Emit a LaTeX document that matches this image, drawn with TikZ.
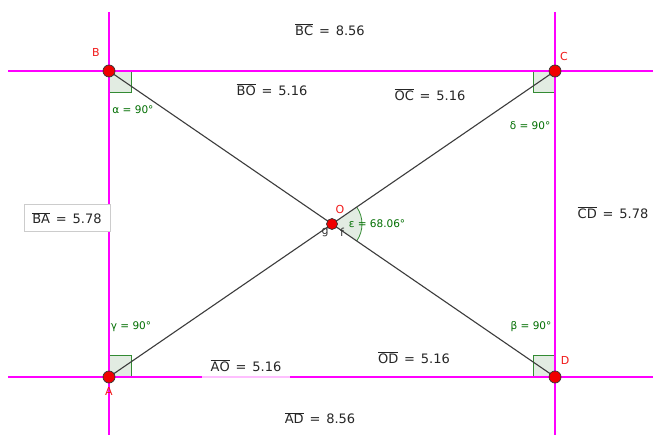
\documentclass[tikz,border=0pt]{standalone}
\usepackage{fontspec}
\setsansfont{DejaVu Sans}
\usetikzlibrary{calc}
\definecolor{mag}{RGB}{255,0,255}
\definecolor{ptred}{RGB}{240,0,0}
\definecolor{angfill}{RGB}{226,236,226}
\definecolor{anggreen}{RGB}{0,110,0}
\definecolor{seggray}{RGB}{60,60,60}
\tikzset{
  magline/.style={draw=mag, line width=2.6pt},
  seg/.style={draw=seggray, line width=1.1pt},
  pt/.style={circle, fill=ptred, draw=black!80, line width=0.7pt, inner sep=0pt, minimum size=12pt},
  ptlabel/.style={text=ptred!90, font=\sffamily\fontsize{11}{11}\selectfont, inner sep=1pt},
  anglabel/.style={text=anggreen, font=\sffamily\fontsize{10.5}{11}\selectfont, inner sep=1pt},
  seglabel/.style={text=black!85, font=\sffamily\fontsize{13}{14}\selectfont, inner sep=2pt},
  rightang/.style={fill=angfill, draw=anggreen!80, line width=0.8pt},
  linelabel/.style={text=black!80, font=\sffamily\fontsize{11}{11}\selectfont, inner sep=1pt}
}
\newcommand{\segtxt}[2]{$\overline{\mathsf{#1}}$\hspace{0.45em}=\hspace{0.45em}#2}
\begin{document}
\begin{tikzpicture}[x=1pt,y=-1pt]
\useasboundingbox (0,0) rectangle (653,435);
\fill[white] (0,0) rectangle (653,435);
% points
\coordinate (B) at (109,71);
\coordinate (C) at (555,71);
\coordinate (A) at (109,377);
\coordinate (D) at (555,377);
\coordinate (O) at (332,224);
% ends of magenta lines
\coordinate (hl1) at (8,71);  \coordinate (hr1) at (653,71);
\coordinate (hl2) at (8,377); \coordinate (hr2) at (653,377);
\coordinate (vt1) at (109,12); \coordinate (vb1) at (109,435);
\coordinate (vt2) at (555,12); \coordinate (vb2) at (555,435);
% right-angle marks (under lines)
\path[rightang] (B) -- ++(0,21) -- ++(22,0) -- ++(0,-21);
\path[rightang] (C) -- ++(-22,0) -- ++(0,21) -- ++(22,0);
\path[rightang] (A) -- ++(0,-22) -- ++(22,0) -- ++(0,22);
\path[rightang] (D) -- ++(-22,0) -- ++(0,-22) -- ++(22,0);
% epsilon sector
\fill[angfill] (O) -- ($(O)+(-34.45:30)$) arc[start angle=-34.45, end angle=34.45, radius=30] -- cycle;
\draw[anggreen!80, line width=0.8pt] ($(O)+(-34.45:30)$) arc[start angle=-34.45, end angle=34.45, radius=30];
% magenta lines
\draw[magline] (hl1) -- (hr1);
\draw[magline] (hl2) -- (hr2);
\draw[magline] (vt1) -- (vb1);
\draw[magline] (vt2) -- (vb2);
% diagonals
\draw[seg] (B) -- (D);
\draw[seg] (A) -- (C);
% points
\node[pt] (pB) at (B) {};
\node[pt] (pC) at (C) {};
\node[pt] (pA) at (A) {};
\node[pt] (pD) at (D) {};
\node[pt, minimum size=11pt] (pO) at (O) {};
% point labels
\node[ptlabel] (lB) at (96,52) {B};
\node[ptlabel] (lC) at (564,56) {C};
\node[ptlabel] (lA) at (109,391) {A};
\node[ptlabel] (lD) at (565,360) {D};
\node[ptlabel] (lO) at (340,209) {O};
\node[linelabel] (lg) at (325,233) {g};
\node[linelabel] (lf) at (342,232) {f};
% angle labels
\node[anglabel] (aal) at (133,110) {α = 90°};
\node[anglabel] (adl) at (530,126) {δ = 90°};
\node[anglabel] (agl) at (131,327) {γ = 90°};
\node[anglabel] (abl) at (531,327) {β = 90°};
\node[anglabel] (ael) at (377,224) {ε = 68.06°};
% segment labels
\node[seglabel] (sBC) at (330,30) {\segtxt{BC}{8.56}};
\node[seglabel] (sBO) at (272,90) {\segtxt{BO}{5.16}};
\node[seglabel] (sOC) at (430,95) {\segtxt{OC}{5.16}};
\node[seglabel, draw=black!20, fill=white, minimum width=86pt, minimum height=27pt] (sBA) at (67,218) {\segtxt{BA}{5.78}};
\node[seglabel] (sCD) at (613,213) {\segtxt{CD}{5.78}};
\node[seglabel, fill=white, fill opacity=0.75, text opacity=1, minimum width=88pt, minimum height=26pt] (sAO) at (246,366) {\segtxt{AO}{5.16}};
\node[seglabel] (sOD) at (414,358) {\segtxt{OD}{5.16}};
\node[seglabel] (sAD) at (320,418) {\segtxt{AD}{8.56}};
\end{tikzpicture}
\end{document}
